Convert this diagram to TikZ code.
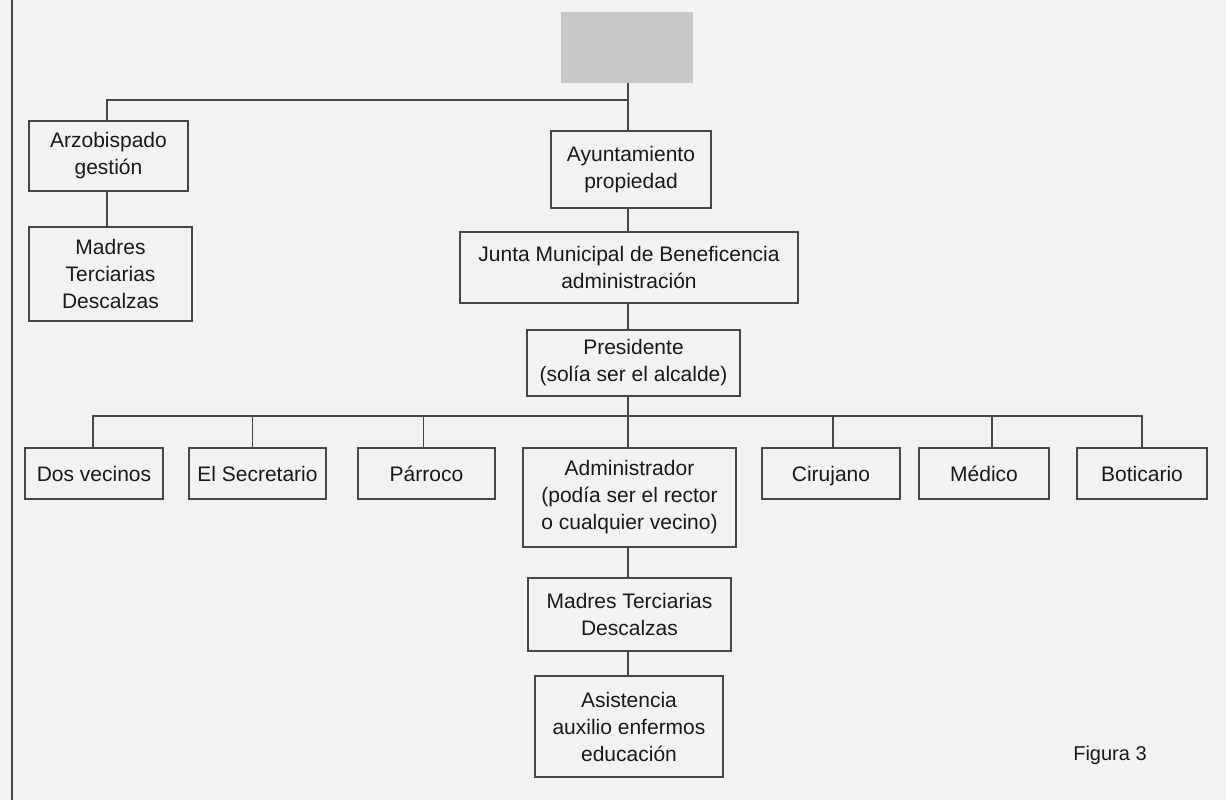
\documentclass[tikz,border=0pt]{standalone}
\usepackage{fontspec}
\setmainfont{Liberation Sans}
\definecolor{paper}{RGB}{242,242,242}
\definecolor{ink}{RGB}{70,70,70}
\definecolor{txt}{RGB}{25,25,25}
\definecolor{greybox}{RGB}{200,200,200}
\begin{document}
\begin{tikzpicture}[x=1pt,y=1pt,
  box/.style={draw=ink, line width=1.1pt, rectangle, align=center, inner sep=0pt,
    text=txt, font=\fontsize{21}{27}\selectfont},
  single/.style={text height=15pt, text depth=0pt},
  conn/.style={draw=ink, line width=1.1pt}]
\fill[paper] (0,0) rectangle (1226,-800);
\useasboundingbox (0,0) rectangle (1226,-800);
\draw[conn] (12,0) -- (12,-800);
% nodes
\node[fill=greybox, minimum width=132pt, minimum height=71pt, inner sep=0pt] (top) at (627,-47.5) {};
\node[box, minimum width=159pt, minimum height=70pt] (arz) at (108.5,-156) {Arzobispado\\gestión};
\node[box, minimum width=163pt, minimum height=94pt] (madresL) at (110.5,-274) {Madres\\Terciarias\\Descalzas};
\node[box, minimum width=160pt, minimum height=77pt] (ayunt) at (631,-169.5) {Ayuntamiento\\propiedad};
\node[box, minimum width=338pt, minimum height=71pt] (junta) at (629,-267.5) {Junta Municipal de Beneficencia\\administración};
\node[box, minimum width=213pt, minimum height=66pt] (pres) at (633.5,-363) {Presidente\\(solía ser el alcalde)};
\node[box, single, minimum width=138pt, minimum height=51pt] (dos) at (94,-473.5) {Dos vecinos};
\node[box, single, minimum width=137pt, minimum height=51pt] (sec) at (257.5,-473.5) {El Secretario};
\node[box, single, minimum width=137pt, minimum height=51pt] (parr) at (426.5,-473.5) {Párroco};
\node[box, minimum width=213pt, minimum height=99pt] (admin) at (629.5,-497.5) {Administrador\\(podía ser el rector\\o cualquier vecino)};
\node[box, single, minimum width=138pt, minimum height=51pt] (ciru) at (831,-473.5) {Cirujano};
\node[box, single, minimum width=130pt, minimum height=51pt] (medico) at (984,-473.5) {Médico};
\node[box, single, minimum width=130pt, minimum height=51pt] (botic) at (1142,-473.5) {Boticario};
\node[box, minimum width=203pt, minimum height=73pt] (madresB) at (629.5,-614.5) {Madres Terciarias\\Descalzas};
\node[box, minimum width=188pt, minimum height=101pt] (asist) at (629,-726.5) {Asistencia\\auxilio enfermos\\educación};
\node[text=txt, font=\fontsize{20}{24}\selectfont] (fig) at (1110,-755) {Figura 3};
% connectors
\coordinate (t1) at (628,-100);
\coordinate (b1) at (628,-416);
\draw[conn] (top.south -| t1) -- (ayunt.north -| t1);
\draw[conn] (t1) -| ([xshift=-1.5pt]arz.north);
\draw[conn] ([xshift=-1.5pt]arz.south) -- ([xshift=-1.5pt]arz.south |- madresL.north);
\draw[conn] (ayunt.south -| t1) -- (junta.north -| t1);
\draw[conn] (junta.south -| t1) -- (pres.north -| t1);
\draw[conn] (pres.south -| t1) -- (admin.north -| t1);
\draw[conn] (b1) -| ([xshift=-1pt]dos.north);
\draw[conn] (b1) -| ([xshift=-5pt]sec.north);
\draw[conn] (b1) -| ([xshift=-3pt]parr.north);
\draw[conn] (b1) -| ([xshift=2pt]ciru.north);
\draw[conn] (b1) -| ([xshift=8pt]medico.north);
\draw[conn] (b1) -| (botic.north);
\draw[conn] (admin.south -| t1) -- (madresB.north -| t1);
\draw[conn] (madresB.south -| t1) -- (asist.north -| t1);
\end{tikzpicture}
\end{document}
